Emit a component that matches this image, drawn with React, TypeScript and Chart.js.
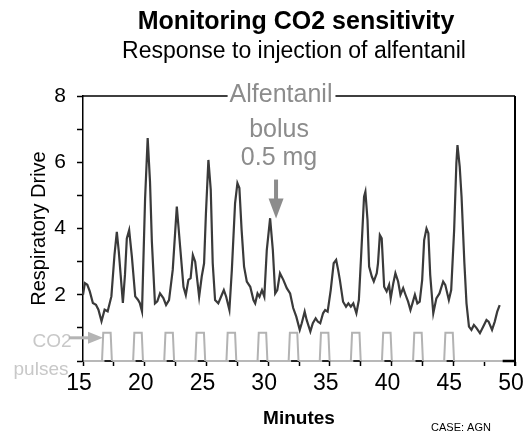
import React, { useEffect, useRef } from "react";
import { Chart, registerables } from "chart.js";

Chart.register(...registerables);

// ---------- data ----------
const minutes = [
  15.0, 15.15, 15.35, 15.55, 15.8, 16.05, 16.25, 16.5, 16.75, 17.0,
  17.3, 17.55, 17.74, 17.9, 18.05, 18.23, 18.4, 18.55, 18.74, 18.96,
  19.23, 19.45, 19.6, 19.78, 20.03, 20.24, 20.43, 20.58, 20.83, 21.02,
  21.24, 21.51, 21.73, 21.97, 22.27, 22.6, 22.87, 23.14, 23.33, 23.54,
  23.72, 23.9, 24.09, 24.41, 24.62, 24.81, 24.96, 25.16, 25.35, 25.51,
  25.7, 25.96, 26.25, 26.41, 26.6, 26.86, 27.06, 27.32, 27.51, 27.67,
  27.85, 28.05, 28.27, 28.55, 28.81, 28.95, 29.14, 29.3, 29.5, 29.69,
  29.89, 30.16, 30.38, 30.57, 30.74, 30.96, 31.23, 31.51, 31.78, 32.03,
  32.28, 32.56, 32.72, 32.96, 33.12, 33.42, 33.62, 33.85, 34.02, 34.22,
  34.45, 34.62, 34.82, 35.07, 35.31, 35.51, 35.67, 35.81, 36.07, 36.31,
  36.5, 36.7, 36.9, 37.15, 37.35, 37.55, 37.77, 37.88, 38.05, 38.18,
  38.4, 38.56, 38.8, 38.9, 39.05, 39.2, 39.4, 39.6, 39.8, 39.93,
  40.14, 40.31, 40.53, 40.72, 40.94, 41.13, 41.34, 41.53, 41.69, 41.89,
  42.09, 42.28, 42.48, 42.64, 42.83, 42.98, 43.13, 43.38, 43.63, 43.88,
  44.18, 44.35, 44.64, 44.83, 45.07, 45.25, 45.34, 45.52, 45.67, 45.9,
  46.07, 46.27, 46.47, 46.67, 46.87, 47.16, 47.43, 47.69, 47.86, 48.14,
  48.36, 48.56, 48.76,
];
const drive = [
  2.0, 2.35, 2.3, 2.1, 1.75, 1.7, 1.55, 1.2, 1.55, 1.5,
  1.95, 3.2, 3.9, 3.3, 2.6, 1.75, 2.6, 3.7, 3.95, 3.15,
  1.95, 1.85, 1.75, 1.5, 4.9, 6.73, 5.4, 3.6, 1.74, 1.8,
  2.04, 1.9, 1.69, 1.84, 2.75, 4.66, 3.45, 2.24, 1.99, 2.45,
  2.5, 3.2, 3.0, 1.94, 2.55, 2.95, 4.46, 6.07, 5.17, 2.95,
  1.84, 1.74, 2.0, 2.14, 1.94, 1.54, 2.75, 4.76, 5.37, 5.22,
  3.96, 2.85, 2.4, 2.24, 1.84, 1.74, 2.04, 1.94, 2.14, 1.94,
  3.35, 4.31, 3.35, 2.04, 2.14, 2.65, 2.45, 2.2, 2.04, 1.6,
  1.34, 0.94, 1.14, 1.49, 1.24, 0.89, 1.14, 1.29, 1.19, 1.14,
  1.44, 1.54, 1.49, 2.14, 2.95, 3.05, 2.75, 2.45, 1.79, 1.64,
  1.74, 1.64, 1.74, 1.44, 1.84, 3.3, 4.96, 5.11, 4.26, 2.85,
  2.55, 2.4, 2.65, 2.95, 3.8, 3.7, 2.24, 2.1, 2.3, 1.89,
  2.35, 2.65, 2.4, 2.0, 2.2, 2.0, 1.79, 1.54, 1.74, 2.0,
  1.74, 1.79, 2.45, 3.65, 4.0, 3.86, 2.6, 1.44, 1.89, 2.04,
  2.4, 2.3, 1.84, 2.14, 3.96, 5.97, 6.52, 5.87, 4.96, 2.95,
  1.74, 1.04, 0.94, 1.09, 1.0, 0.84, 1.04, 1.24, 1.19, 0.94,
  1.19, 1.49, 1.69,
];
const pulseStarts = [16.54, 19.06, 21.58, 24.1, 26.62, 29.14, 31.66, 34.18, 36.7, 39.22, 41.74, 44.26];
const pulseLength = 0.8;
const pulseLevel = 0.85;
const xTickValues = [15, 17.5, 20, 22.5, 25, 27.5, 30, 32.5, 35, 37.5, 40, 42.5, 45, 47.5, 50];
const yTickValues = [0, 1, 2, 3, 4, 5, 6, 7, 8];
const bolusMinute = 30.64;
const bolusLevel = 4.3;
const frameEndMinute = 49;

const FONT = '"Liberation Sans", Arial, sans-serif';

const decorPlugin = {
  id: "decor",
  afterDraw(chart: any) {
    const { ctx, chartArea, scales } = chart;
    const { left, right, top, bottom } = chartArea;
    const xs = scales.x;
    const ys = scales.y;
    ctx.save();

    // titles
    ctx.fillStyle = "#000";
    ctx.textAlign = "center";
    ctx.textBaseline = "middle";
    ctx.font = `bold 25px ${FONT}`;
    ctx.fillText("Monitoring CO2 sensitivity", 296, 22);
    ctx.font = `23px ${FONT}`;
    ctx.fillText("Response to injection of alfentanil", 294, 52);

    // annotation text
    const bx = xs.getPixelForValue(bolusMinute);
    ctx.font = `25px ${FONT}`;
    ctx.fillStyle = "#8c8c8c";
    const alfW = ctx.measureText("Alfentanil").width;
    const tx = bx + 5;
    ctx.fillText("Alfentanil", tx, top - 1);
    ctx.fillText("bolus", tx - 2, 130);
    ctx.fillText("0.5 mg", tx - 2, 158);

    // frame: top with gap, right, bottom end
    ctx.strokeStyle = "#000";
    ctx.lineWidth = 1.5;
    ctx.beginPath();
    ctx.moveTo(left, top);
    ctx.lineTo(tx - alfW / 2 - 2, top);
    ctx.moveTo(tx + alfW / 2 + 3, top);
    ctx.lineTo(right, top);
    ctx.stroke();
    ctx.lineWidth = 2;
    ctx.beginPath();
    ctx.moveTo(right, top);
    ctx.lineTo(right, bottom + 5);
    ctx.stroke();
    ctx.lineWidth = 2.5;
    ctx.beginPath();
    ctx.moveTo(xs.getPixelForValue(frameEndMinute), bottom);
    ctx.lineTo(right, bottom);
    ctx.stroke();

    // bolus arrow
    const tipY = ys.getPixelForValue(bolusLevel);
    ctx.fillStyle = "#8c8c8c";
    ctx.fillRect(bx - 2, tipY - 39, 4, 22);
    ctx.beginPath();
    ctx.moveTo(bx - 7.5, tipY - 20);
    ctx.lineTo(bx + 7.5, tipY - 20);
    ctx.lineTo(bx, tipY);
    ctx.closePath();
    ctx.fill();

    // CO2 pulses label
    ctx.fillStyle = "#c8c8c8";
    ctx.font = `19px ${FONT}`;
    ctx.fillText("CO2", 52, 342);
    ctx.fillText("pulses", 41, 370);
    const ax = xs.getPixelForValue(pulseStarts[0]) + 1;
    const ay = ys.getPixelForValue(0.7);
    ctx.fillStyle = "#b4b4b4";
    ctx.fillRect(ax - 34, ay - 1.5, 22, 3);
    ctx.beginPath();
    ctx.moveTo(ax - 15, ay - 6);
    ctx.lineTo(ax, ay);
    ctx.lineTo(ax - 15, ay + 6);
    ctx.closePath();
    ctx.fill();

    // case label
    ctx.fillStyle = "#000";
    ctx.font = `11px ${FONT}`;
    ctx.fillText("CASE: AGN", 461, 428);
    ctx.restore();
  },
};

export default function App() {
  const ref = useRef<HTMLCanvasElement | null>(null);

  useEffect(() => {
    if (!ref.current) return;
    const trace = minutes.map((m, i) => ({ x: m, y: drive[i] }));
    const pulses: any[] = [];
    const pulseBase: any[] = [];
    pulseStarts.forEach((s) => {
      pulses.push(
        { x: s, y: 0 },
        { x: s + 0.1, y: pulseLevel },
        { x: s + pulseLength - 0.1, y: pulseLevel },
        { x: s + pulseLength, y: 0 },
        { x: s + pulseLength + 0.01, y: null }
      );
      pulseBase.push(
        { x: s + 0.2, y: 0 },
        { x: s + pulseLength + 0.05, y: 0 },
        { x: s + pulseLength + 0.06, y: null }
      );
    });

    const chart = new Chart(ref.current, {
      type: "line",
      data: {
        datasets: [
          {
            data: pulses,
            borderColor: "#b3b3b3",
            borderWidth: 2,
            pointRadius: 0,
            tension: 0,
            clip: 6,
          } as any,
          {
            data: pulseBase,
            borderColor: "#222",
            borderWidth: 2,
            pointRadius: 0,
            clip: 6,
          } as any,
          {
            data: trace,
            borderColor: "#3a3a3a",
            borderWidth: 2.2,
            pointRadius: 0,
            tension: 0,
            clip: 6,
          } as any,
        ],
      },
      options: {
        animation: false,
        responsive: false,
        maintainAspectRatio: false,
        layout: { padding: { left: 0, right: 11, top: 96, bottom: 0 } },
        plugins: {
          legend: { display: false },
          tooltip: { enabled: false },
          title: { display: false },
        },
        scales: {
          x: {
            type: "linear",
            min: 15,
            max: 50,
            afterBuildTicks: (s: any) => {
              s.ticks = xTickValues.map((v) => ({ value: v }));
            },
            ticks: {
              autoSkip: false,
              maxRotation: 0,
              color: "#000",
              padding: 4,
              labelOffset: -4,
              font: { family: FONT, size: 23 },
              callback: (v: any) => (Number(v) % 5 === 0 ? String(v) : ""),
            },
            grid: {
              drawOnChartArea: false,
              drawTicks: true,
              tickLength: 5,
              tickColor: "#000",
              tickWidth: 1.5,
            },
            border: { color: "#b8b8b8", width: 2 },
            title: {
              display: true,
              text: "Minutes",
              color: "#000",
              font: { family: FONT, size: 19, weight: "bold" },
              padding: { top: 0, bottom: 5 },
            },
            afterFit: (s: any) => {
              s.height = 74;
              s.paddingLeft = 0;
              s.paddingRight = 0;
            },
          },
          y: {
            type: "linear",
            min: 0,
            max: 8,
            afterBuildTicks: (s: any) => {
              s.ticks = yTickValues.map((v) => ({ value: v }));
            },
            ticks: {
              autoSkip: false,
              color: "#000",
              padding: 11,
              font: { family: FONT, size: 21 },
              callback: (v: any) => (Number(v) > 0 && Number(v) % 2 === 0 ? String(v) : ""),
            },
            grid: {
              drawOnChartArea: false,
              drawTicks: true,
              tickLength: 6,
              tickColor: "#000",
              tickWidth: 1.5,
            },
            border: { color: "#000", width: 1.5 },
            title: {
              display: true,
              text: "Respiratory Drive",
              color: "#000",
              font: { family: FONT, size: 20 },
              padding: { top: 27, bottom: 0 },
            },
            afterFit: (s: any) => {
              s.width = 83;
              s.paddingTop = 0;
              s.paddingBottom = 0;
            },
          },
        },
      } as any,
      plugins: [decorPlugin],
    });
    return () => chart.destroy();
  }, []);

  return (
    <div style={{ position: "absolute", left: 0, top: 0, width: 526, height: 435, background: "#fff" }}>
      <canvas ref={ref} width={526} height={435} style={{ width: 526, height: 435, display: "block" }} />
    </div>
  );
}
